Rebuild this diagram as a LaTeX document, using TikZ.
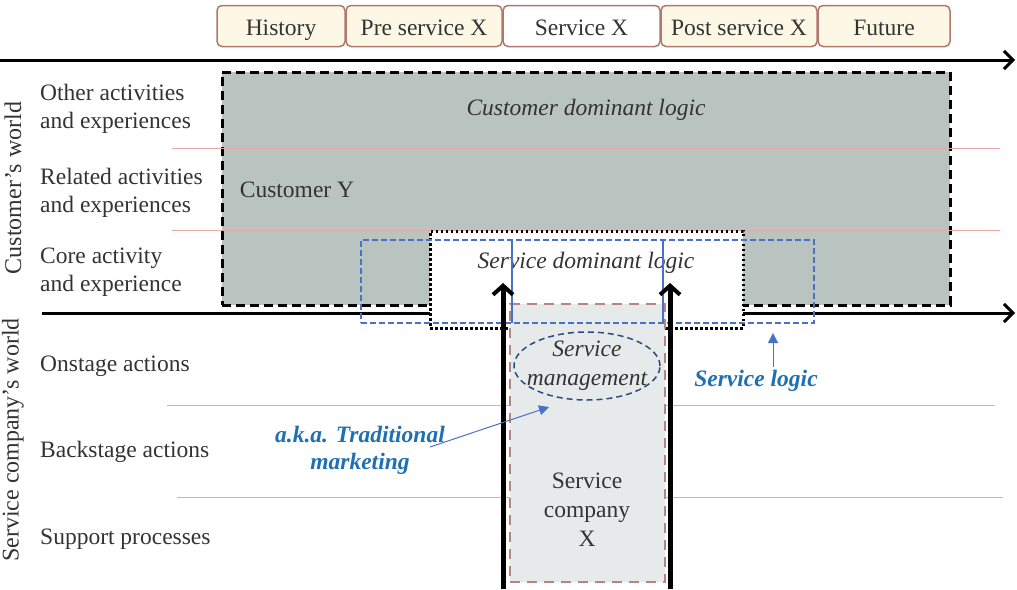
\documentclass[tikz,border=0pt]{standalone}
\usepackage{fontspec}
\setmainfont{Liberation Serif}
\usetikzlibrary{arrows.meta,shapes.geometric}
\definecolor{cream}{HTML}{FDF8E6}
\definecolor{tabedge}{HTML}{B0776E}
\definecolor{custgray}{HTML}{B9C3BF}
\definecolor{pinkline}{HTML}{E8A8A8}
\definecolor{lgray}{HTML}{E7EAEB}
\definecolor{brownd}{HTML}{B3877C}
\definecolor{bluedash}{HTML}{4A72C4}
\definecolor{navyd}{HTML}{2F4A7A}
\definecolor{bluetxt}{HTML}{1F6FB2}
\definecolor{txt}{HTML}{333333}
\tikzset{
  tab/.style={draw=tabedge, line width=1.5pt, rounded corners=5pt, fill=cream, minimum height=41pt, inner sep=0pt, text=txt, text height=20pt, text depth=2pt, font=\fontsize{23.5}{26}\selectfont},
  lbl/.style={anchor=west, align=left, text=txt, inner sep=0pt, font=\fontsize{23.5}{28}\selectfont},
  mainarrow/.style={line width=3pt, -{Straight Barb[length=9pt,width=18pt,line width=3pt]}},
  uparrow/.style={line width=5pt, -{Straight Barb[length=9pt,width=20pt,line width=4pt]}},
  sep/.style={draw=pinkline, line width=0.8pt},
  note/.style={text=bluetxt, font=\fontsize{23.5}{27}\selectfont\bfseries\itshape, align=center, inner sep=0pt},
  notearrow/.style={draw=bluedash, line width=1pt, -{Triangle[length=10pt,width=10pt]}}
}
\begin{document}
\begin{tikzpicture}[x=1pt,y=-1pt, font=\fontsize{23.5}{26}\selectfont]
\useasboundingbox (0,0) rectangle (1017,589);
% tabs
\node[tab, minimum width=128pt] (hist) at (281,26) {History};
\node[tab, minimum width=156pt] (pre) at (424,26) {Pre service X};
\node[tab, minimum width=157pt, fill=white] (serv) at (581.5,26) {Service X};
\node[tab, minimum width=156pt] (post) at (739,26) {Post service X};
\node[tab, minimum width=132pt] (fut) at (884,26) {Future};
% top arrow
\coordinate (t0) at (0,60); \coordinate (t1) at (1015,60);
\draw[mainarrow] (t0) -- (t1);
% customer gray box
\node[draw=black, dash pattern=on 9pt off 5pt, line width=3pt, fill=custgray, minimum width=728pt, minimum height=233pt, inner sep=0pt] (cust) at (586,188.5) {};
\node[text=txt, font=\fontsize{23.5}{26}\selectfont\itshape] (cdl) at (586,110) {Customer dominant logic};
\node[text=txt] (custy) at (297,190) {Customer Y};
% separator lines
\coordinate (s1a) at (172,148); \coordinate (s1b) at (1000,148);
\coordinate (s2a) at (172,230); \coordinate (s2b) at (1000,230);
\coordinate (s3a) at (167,405); \coordinate (s3b) at (995,405);
\coordinate (s4a) at (177,497); \coordinate (s4b) at (1003,497);
\draw[sep] (s1a) -- (s1b);
\draw[sep] (s2a) -- (s2b);
\draw[sep] (s3a) -- (s3b);
\draw[sep] (s4a) -- (s4b);
% second arrow
\coordinate (m0) at (42,313); \coordinate (m1) at (1015,313);
\draw[mainarrow] (m0) -- (m1);
% service dominant logic box
\node[draw=black, dash pattern=on 2.5pt off 2.5pt, line width=3pt, fill=white, minimum width=313pt, minimum height=97pt, inner sep=0pt] (sdl) at (586.5,279.5) {};
% brown service company box
\node[draw=brownd, dash pattern=on 10pt off 7pt, line width=2.5pt, fill=lgray, minimum width=155pt, minimum height=278pt, inner sep=0pt] (comp) at (587.5,443) {};
\node[text=txt, font=\fontsize{23.5}{26}\selectfont\itshape] (sdltxt) at (586,263) {Service dominant logic};
% blue dashed service logic frame
\node[draw=bluedash, dash pattern=on 6pt off 3pt, line width=1.3pt, minimum width=453pt, minimum height=83pt, inner sep=0pt] (slf) at (587.5,281.5) {};
\coordinate (v1a) at (512,240); \coordinate (v1b) at (512,323);
\coordinate (v2a) at (663,240); \coordinate (v2b) at (663,323);
\draw[bluedash, line width=1.2pt] (v1a) -- (v1b);
\draw[bluedash, line width=1.2pt] (v2a) -- (v2b);
% black up arrows
\coordinate (a1b) at (503,589); \coordinate (a1t) at (503,283);
\coordinate (a2b) at (670,589); \coordinate (a2t) at (670,283);
\draw[uparrow] (a1b) -- (a1t);
\draw[uparrow] (a2b) -- (a2t);
% service management ellipse
\node[ellipse, draw=navyd, dash pattern=on 6pt off 4pt, line width=1.5pt, minimum width=146pt, minimum height=68pt, inner sep=0pt] (sm) at (587,366) {};
\node[text=txt, font=\fontsize{23.5}{29}\selectfont\itshape, align=center] (smt) at (587,366) {Service\\management};
\node[text=txt, align=center, font=\fontsize{23.5}{29}\selectfont] (scx) at (587,510) {Service\\company\\X};
% notes
\node[note] (sl) at (756,381) {Service logic};
\coordinate (slarrow) at (773,333);
\coordinate (slbase) at (773,367);
\draw[notearrow] (slbase) -- (slarrow);
\node[note] (aka) at (360,450) {a.k.a. Traditional\\marketing};
\coordinate (akaS) at (430,447); \coordinate (akaE) at (549,407);
\draw[notearrow] (akaS) -- (akaE);
% left labels
\node[lbl] (oth) at (40,109) {Other activities\\and experiences};
\node[lbl] (rel) at (40,193) {Related activities\\and experiences};
\node[lbl] (core) at (40,272) {Core activity\\and experience};
\node[lbl] (on) at (40,366) {Onstage actions};
\node[lbl] (back) at (40,452) {Backstage actions};
\node[lbl] (sup) at (40,539) {Support processes};
\node[rotate=90, text=txt, font=\fontsize{24}{26}\selectfont] (cw) at (13,188) {Customer's world};
\node[rotate=90, text=txt, font=\fontsize{24}{26}\selectfont] (scw) at (13,440) {Service company's world};
\end{tikzpicture}
\end{document}
